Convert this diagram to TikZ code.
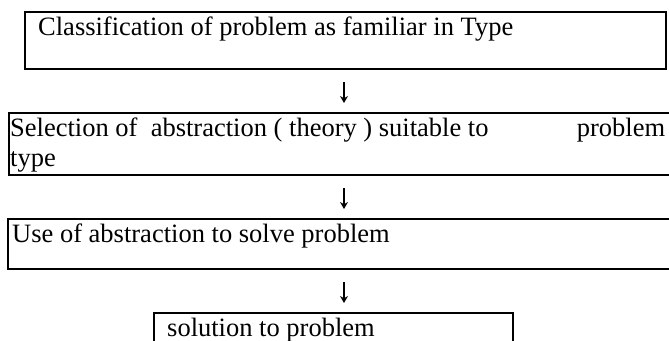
\documentclass[tikz,border=0pt]{standalone}
\usepackage{fontspec}
\setmainfont{Liberation Serif}
\usetikzlibrary{arrows.meta}
\tikzset{
  box/.style={draw, line width=2.3pt, rectangle, inner sep=0pt, anchor=north west},
  txt/.style={anchor=base west, inner sep=0pt, font=\fontsize{26.5}{30.5}\selectfont},
  conn/.style={line width=1.1pt, -{Stealth[length=7pt,width=8pt]}, shorten <=14pt, shorten >=9pt}
}
\begin{document}
\begin{tikzpicture}[x=1pt,y=-1pt]
\useasboundingbox (0,0) rectangle (669,340);
\clip (0,0) rectangle (669,340);
% boxes
\node[box, minimum width=641pt, minimum height=57pt] (b1) at (24,11) {};
\node[box, minimum width=700pt, minimum height=62pt] (b2) at (8,112) {};
\node[box, minimum width=700pt, minimum height=50pt] (b3) at (7,218) {};
\node[box, minimum width=359pt, minimum height=60pt] (b4) at (153,312) {};
% texts
\node[txt] (t1) at (38,35) {Classification of problem as familiar in Type};
\node[txt] (t2a) at (10,136) {\makebox[655pt][l]{Selection of\ \ abstraction ( theory ) suitable to\hfill problem}};
\node[txt] (t2b) at (10,166) {type};
\node[txt] (t3) at (12,242) {Use of abstraction to solve problem};
\node[txt] (t4) at (167,336) {solution to problem};
% connectors
\coordinate (c1) at (344,68);
\coordinate (c2) at (344,174);
\coordinate (c3) at (344,268);
\draw[conn] (c1) -- (c1 |- b2.north);
\draw[conn] (c2) -- (c2 |- b3.north);
\draw[conn] (c3) -- (c3 |- b4.north);
\end{tikzpicture}
\end{document}
